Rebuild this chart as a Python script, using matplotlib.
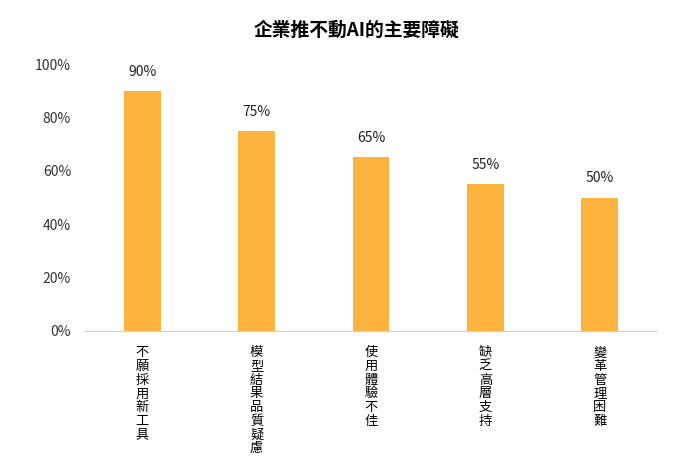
import numpy as np
import matplotlib.pyplot as plt

plt.rcParams['font.family'] = ['Noto Sans CJK TC', 'DejaVu Sans']

categories = ['不願採用新工具', '模型結果品質疑慮', '使用體驗不佳', '缺乏高層支持', '變革管理困難']
values = [90, 75, 65, 55, 50]
bar_color = '#FFB33F'

fig = plt.figure(figsize=(6.99, 4.62), dpi=100)
ax = fig.add_axes([85/699, 1 - 331/462, 572/699, 267/462])

x = np.arange(len(categories))
ax.bar(x, values, width=0.32, color=bar_color)

for xi, v in zip(x, values):
    ax.text(xi, v + 4.5, f'{v}%', ha='center', va='bottom', fontsize=10, color='#222222')

ax.set_xlim(-0.5, len(categories) - 0.5)
ax.set_ylim(0, 100)
ax.set_yticks(range(0, 101, 20))
ax.set_yticklabels([f'{t}%' for t in range(0, 101, 20)], fontsize=10, color='#333333')
ax.tick_params(axis='y', length=0, pad=10)

# vertical stacked labels
ax.set_xticks(x)
ax.set_xticklabels(['\n'.join(c) for c in categories], fontsize=9.5, linespacing=1.07, va='top')
ax.tick_params(axis='x', length=0, pad=11)

for s in ['top', 'right', 'left']:
    ax.spines[s].set_visible(False)
ax.spines['bottom'].set_color('#d0d0d0')

fig.text(357/699, 1 - 30/462, '企業推不動AI的主要障礙', ha='center', va='center',
         fontsize=13.5, fontweight='bold')

fig.savefig('out.png', dpi=100)
